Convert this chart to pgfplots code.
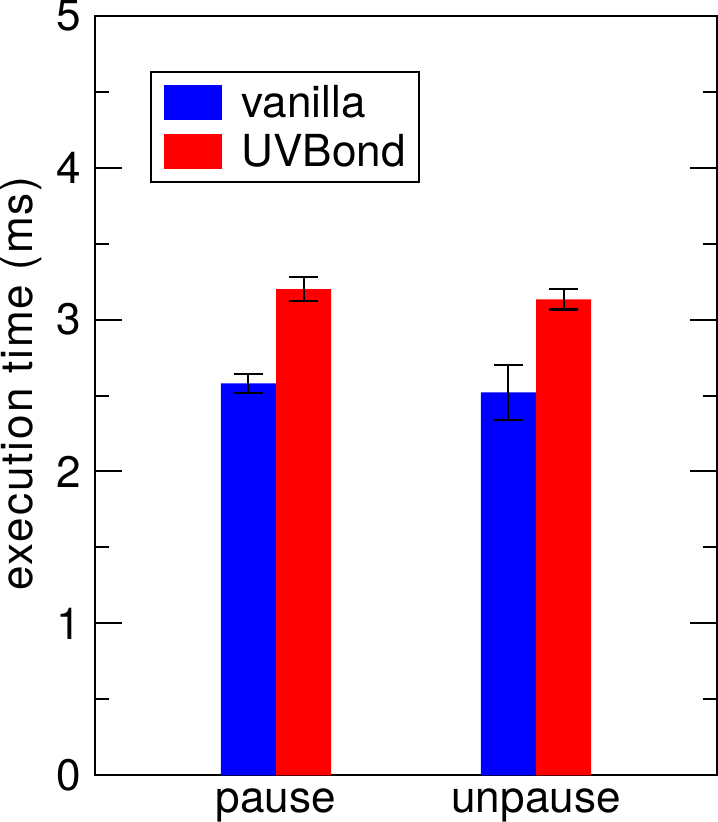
\documentclass[border=0pt]{standalone}
\usepackage{pgfplots}
\pgfplotsset{compat=1.18}
\usepackage{fontspec}
\setmainfont{TeX Gyre Heros}
\begin{document}
\begin{tikzpicture}
\begin{axis}[
  scale only axis,
  width=620pt, height=758pt,
  xmin=0.305, xmax=2.695,
  ymin=0, ymax=5,
  ybar, bar width=55pt,
  xtick={1,2}, xticklabels={pause,unpause},
  ytick={0,1,2,3,4,5},
  minor y tick num=1,
  tick align=inside,
  major tick length=27pt,
  minor tick length=14pt,
  xtick style={draw=none},
  ytick style={line width=2pt, black},
  axis line style={line width=2.2pt},
  /pgf/number format/assume math mode=true,
  tick label style={font=\fontsize{44}{50}\selectfont},
  xticklabel style={inner sep=0pt, yshift=-13pt},
  yticklabel style={inner ysep=0pt, inner xsep=14pt},
  ylabel={execution time (ms)},
  every axis y label/.style={at={(axis description cs:0,0.516)}, rotate=90,
    anchor=base, yshift=63pt, inner sep=0pt,
    font=\fontsize{44}{50}\selectfont\addfontfeatures{LetterSpace=4.5}},
  legend style={at={(0.0887,0.927)}, anchor=north west, draw=black, line width=2pt,
    font=\fontsize{44}{48}\selectfont, inner xsep=13pt, inner ysep=13pt,
    nodes={inner sep=0pt}, row sep=13.5pt,
    /tikz/every odd column/.append style={column sep=20pt}},
  legend cell align=left,
  legend image code/.code={\fill[#1,draw=none] (0pt,-17.5pt) rectangle (57pt,17.5pt);},
]
\addplot[fill=blue, draw=none, bar shift=-27.5pt,
  error bars/.cd, y dir=both, y explicit,
  error bar style={line width=2pt, black},
  error mark options={rotate=90, mark size=14.5pt, line width=2pt, black}]
  coordinates {(1,2.58) +- (0,0.062) (2,2.52) +- (0,0.18)};
\addplot[fill=red, draw=none, bar shift=27.5pt,
  error bars/.cd, y dir=both, y explicit,
  error bar style={line width=2pt, black},
  error mark options={rotate=90, mark size=14.5pt, line width=2pt, black}]
  coordinates {(1,3.20) +- (0,0.08) (2,3.133) +- (0,0.067)};
\legend{vanilla,UVBond}
\end{axis}
\end{tikzpicture}
\end{document}
